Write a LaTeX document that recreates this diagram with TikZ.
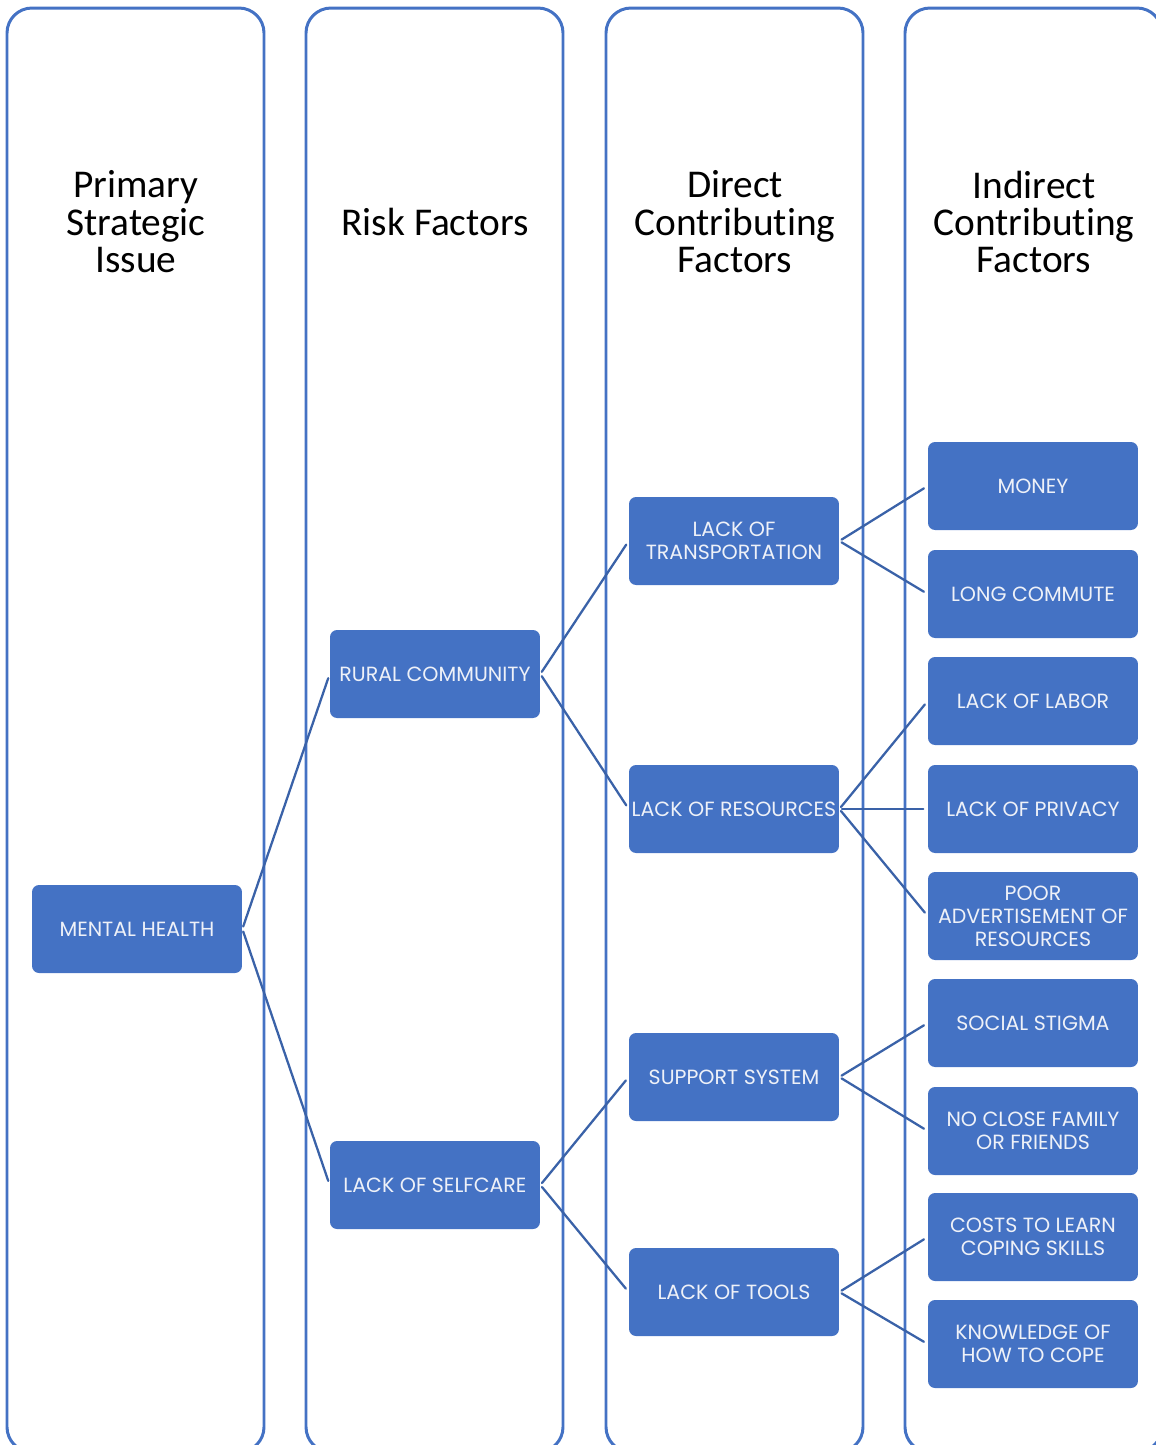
\documentclass[tikz,border=0pt]{standalone}
\usepackage{fontspec}
\setmainfont{Carlito}[Ligatures=NoCommon]
\newfontfamily\boxfont{Poppins}
\definecolor{boxblue}{HTML}{4472C4}
\definecolor{linkblue}{HTML}{3A62A8}
\definecolor{boxtext}{HTML}{EEF1F8}
\begin{document}
\begin{tikzpicture}[x=0.02cm, y=-0.02cm, line join=round, line cap=round,
	column/.style={draw=boxblue, line width=1.7pt, rounded corners=0.5cm},
	heading/.style={align=center, font=\fontsize{22.4}{21.3}\selectfont},
	factor/.style={fill=boxblue, rounded corners=0.14cm, minimum width=4.2cm, minimum height=1.76cm, inner sep=0pt, align=center, text=boxtext, font=\boxfont\fontsize{11.7}{13}\selectfont},
	link/.style={draw=linkblue, line width=1.3pt, shorten <=1.5pt, shorten >=2.5pt}]
	\useasboundingbox (0,0) rectangle (1156,1445);
	\begin{scope}
		\clip (0,0) rectangle (1156,1445);
		\foreach \x in {7,306,606,905} { \draw[column] (\x,8) rectangle (\x+257,1452); }
	\end{scope}
	
	\node[heading] (h1) at (136,222) {Primary\\Strategic\\Issue};
	\node[heading] (h2) at (435,222) {Risk Factors};
	\node[heading] (h3) at (735,222) {Direct\\Contributing\\Factors};
	\node[heading] (h4) at (1034,222) {Indirect\\Contributing\\Factors};
	
	\node[factor] (mh) at (137,929) {MENTAL HEALTH};
	
	\node[factor] (rural) at (435,674) {RURAL COMMUNITY};
	\node[factor] (selfcare) at (435,1185) {LACK OF SELFCARE};
	
	\node[factor] (transport) at (734,541) {LACK OF\\TRANSPORTATION};
	\node[factor] (resources) at (734,809) {LACK OF RESOURCES};
	\node[factor] (support) at (734,1077) {SUPPORT SYSTEM};
	\node[factor] (tools) at (734,1292) {LACK OF TOOLS};
	
	\node[factor] (money) at (1033,486) {MONEY};
	\node[factor] (commute) at (1033,594) {LONG COMMUTE};
	\node[factor] (labor) at (1033,701) {LACK OF LABOR};
	\node[factor] (privacy) at (1033,809) {LACK OF PRIVACY};
	\node[factor] (advert) at (1033,916) {POOR\\ADVERTISEMENT OF\\RESOURCES};
	\node[factor] (stigma) at (1033,1023) {SOCIAL STIGMA};
	\node[factor] (family) at (1033,1131) {NO CLOSE FAMILY\\OR FRIENDS};
	\node[factor] (costs) at (1033,1237) {COSTS TO LEARN\\COPING SKILLS};
	\node[factor] (cope) at (1033,1344) {KNOWLEDGE OF\\HOW TO COPE};
	
	\foreach \a/\b in {mh/rural, mh/selfcare, rural/transport, rural/resources, selfcare/support, selfcare/tools, transport/money, transport/commute, resources/labor, resources/privacy, resources/advert, support/stigma, support/family, tools/costs, tools/cope}
	{ \draw[link] (\a.east) -- (\b.west); }
\end{tikzpicture}
\end{document}
